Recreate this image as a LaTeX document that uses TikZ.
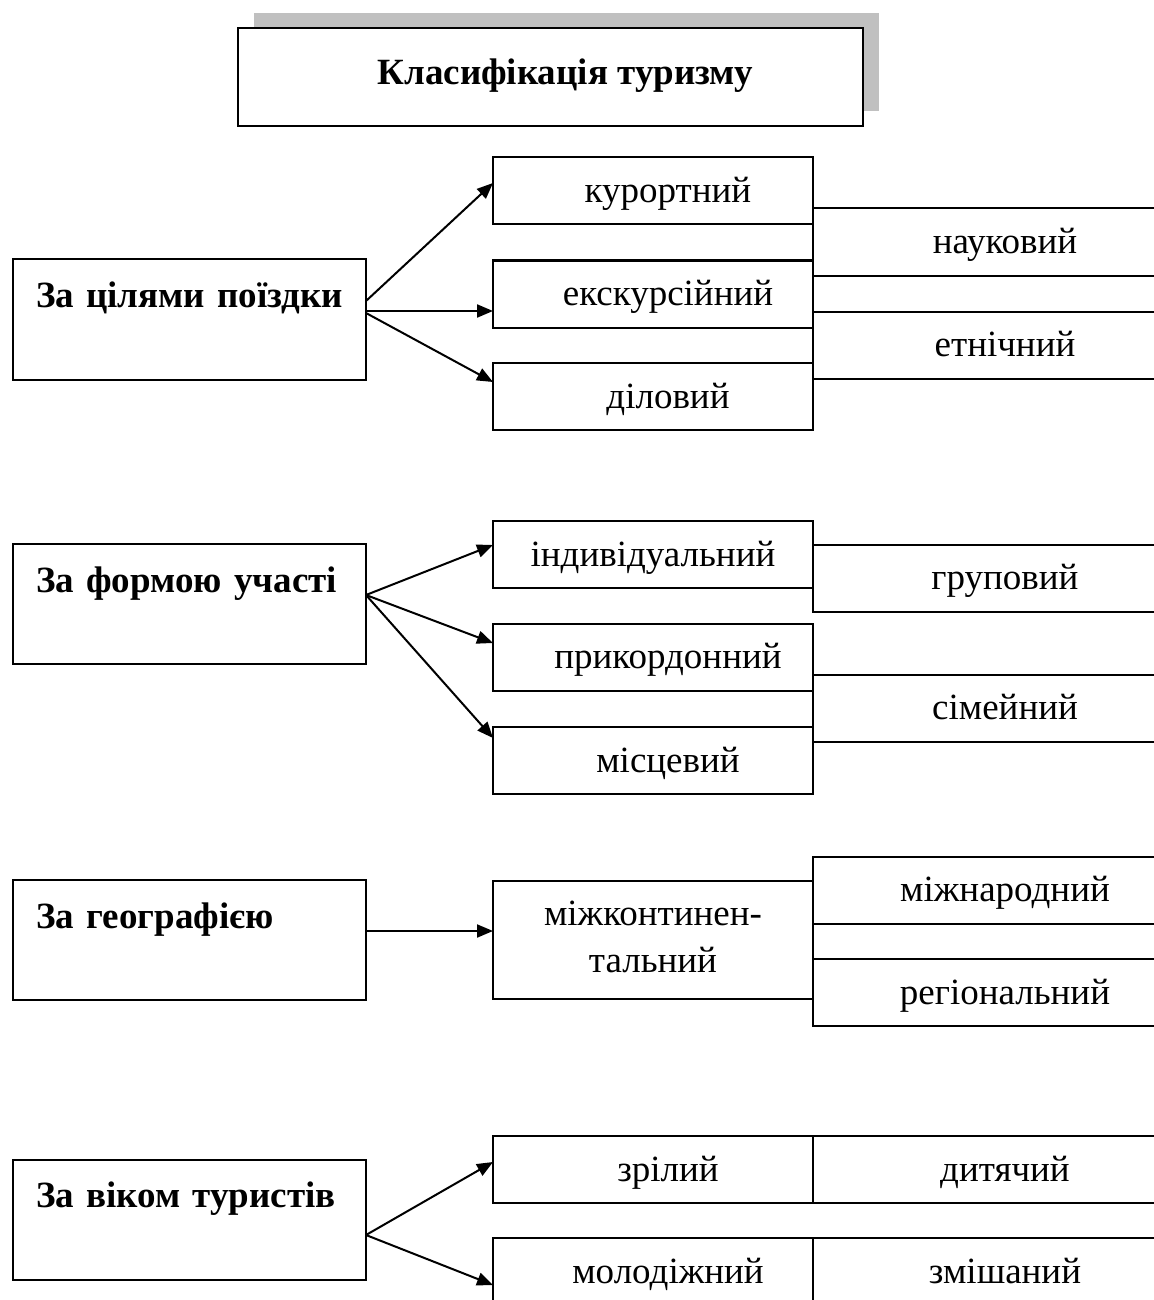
\documentclass[tikz,border=0pt]{standalone}
\usepackage{fontspec}
\setmainfont{Liberation Serif}
\usetikzlibrary{arrows.meta, positioning, shadows}
\definecolor{shadowGray}{RGB}{192,192,192}

\begin{document}
\begin{tikzpicture}[x=0.5pt, y=-0.5pt,
    every node/.style={font=\fontsize{18.5}{23.5}\selectfont},
    box/.style={draw, line width=1pt, outer sep=0pt, inner ysep=0pt,
        text height=22.5pt, text depth=11pt, align=center},
    nudge/.style={execute at begin node=\hspace*{15pt}},
    kind/.style={box, minimum width=160pt},
    sub/.style={box, minimum width=192pt},
    basis/.style={box, font=\fontsize{18.5}{23.5}\selectfont\bfseries,
        text width=170pt, inner xsep=3.25pt, align=left,
        execute at begin node=\hspace*{8.25pt},
        text height=24pt, text depth=36pt},
    head/.style={box, fill=white, minimum width=312.5pt,
        font=\fontsize{18.5}{23.5}\selectfont\bfseries,
        text height=28.5pt, text depth=20.5pt,
        drop shadow={shadow xshift=8pt, shadow yshift=7.5pt, fill=shadowGray, opacity=1}},
    arr/.style={line width=1pt, -{Triangle[length=8pt, width=6.5pt]}}]
    \useasboundingbox (0,0) rectangle (1153,1300);

    % heading
    \node[head, nudge] (classes) at (550.5,77) {Класифікація туризму};

    % bases of classification
    \node[basis] (aim)  at (189.5,319.5)  {За цілями поїздки};
    \node[basis] (form) at (189.5,604)    {За формою участі};
    \node[basis] (geo)  at (189.5,940)    {За географією};
    \node[basis] (age)  at (189.5,1219.5) {За віком туристів};

    % kinds of tourism, middle column
    \node[kind, nudge] (resort)   at (653,191)    {курортний};
    \node[kind, nudge] (tour)     at (653,294)    {екскурсійний};
    \node[kind, nudge] (business) at (653,396.5)  {діловий};
    \node[kind]        (single)   at (653,554.5)  {індивідуальний};
    \node[kind, nudge] (border)   at (653,657)    {прикордонний};
    \node[kind, nudge] (local)    at (653,760.5)  {місцевий};
    \node[kind, text height=45.5pt, text depth=13.5pt] (cont) at (653,940) {міжконтинен-\\тальний};
    \node[kind, nudge] (adult)    at (653,1169.5) {зрілий};
    \node[kind, nudge] (youth)    at (653,1271.5) {молодіжний};

    % kinds of tourism, right column
    \node[sub] (science) at (1005,242)   {науковий};
    \node[sub] (ethnic)  at (1005,345)   {етнічний};
    \node[sub] (group)   at (1005,578)   {груповий};
    \node[sub] (family)  at (1005,708)   {сімейний};
    \node[sub] (world)   at (1005,890)   {міжнародний};
    \node[sub] (region)  at (1005,992.5) {регіональний};
    \node[sub, right=0pt of adult] (child) {дитячий};
    \node[sub, right=0pt of youth] (mixed) {змішаний};

    % arrows
    \draw[arr] ([yshift=9.25pt]aim.east) -- ([yshift=4pt]resort.west);
    \draw[arr] ([yshift=4.25pt]aim.east) -- ([yshift=-8.5pt]tour.west);
    \draw[arr] ([yshift=3.25pt]aim.east) -- ([yshift=7.25pt]business.west);
    \foreach \k/\s in {single/4.75, border/7, local/11.25}
        \draw[arr] ([yshift=4.5pt]form.east) -- ([yshift=\s pt]\k.west);
    \draw[arr] ([yshift=4.5pt]geo.east) -- ([yshift=4.5pt]cont.west);
    \draw[arr] ([yshift=-7.75pt]age.east) -- ([yshift=3.75pt]adult.west);
    \draw[arr] ([yshift=-7.75pt]age.east) -- ([yshift=-6.75pt]youth.west);
\end{tikzpicture}
\end{document}
